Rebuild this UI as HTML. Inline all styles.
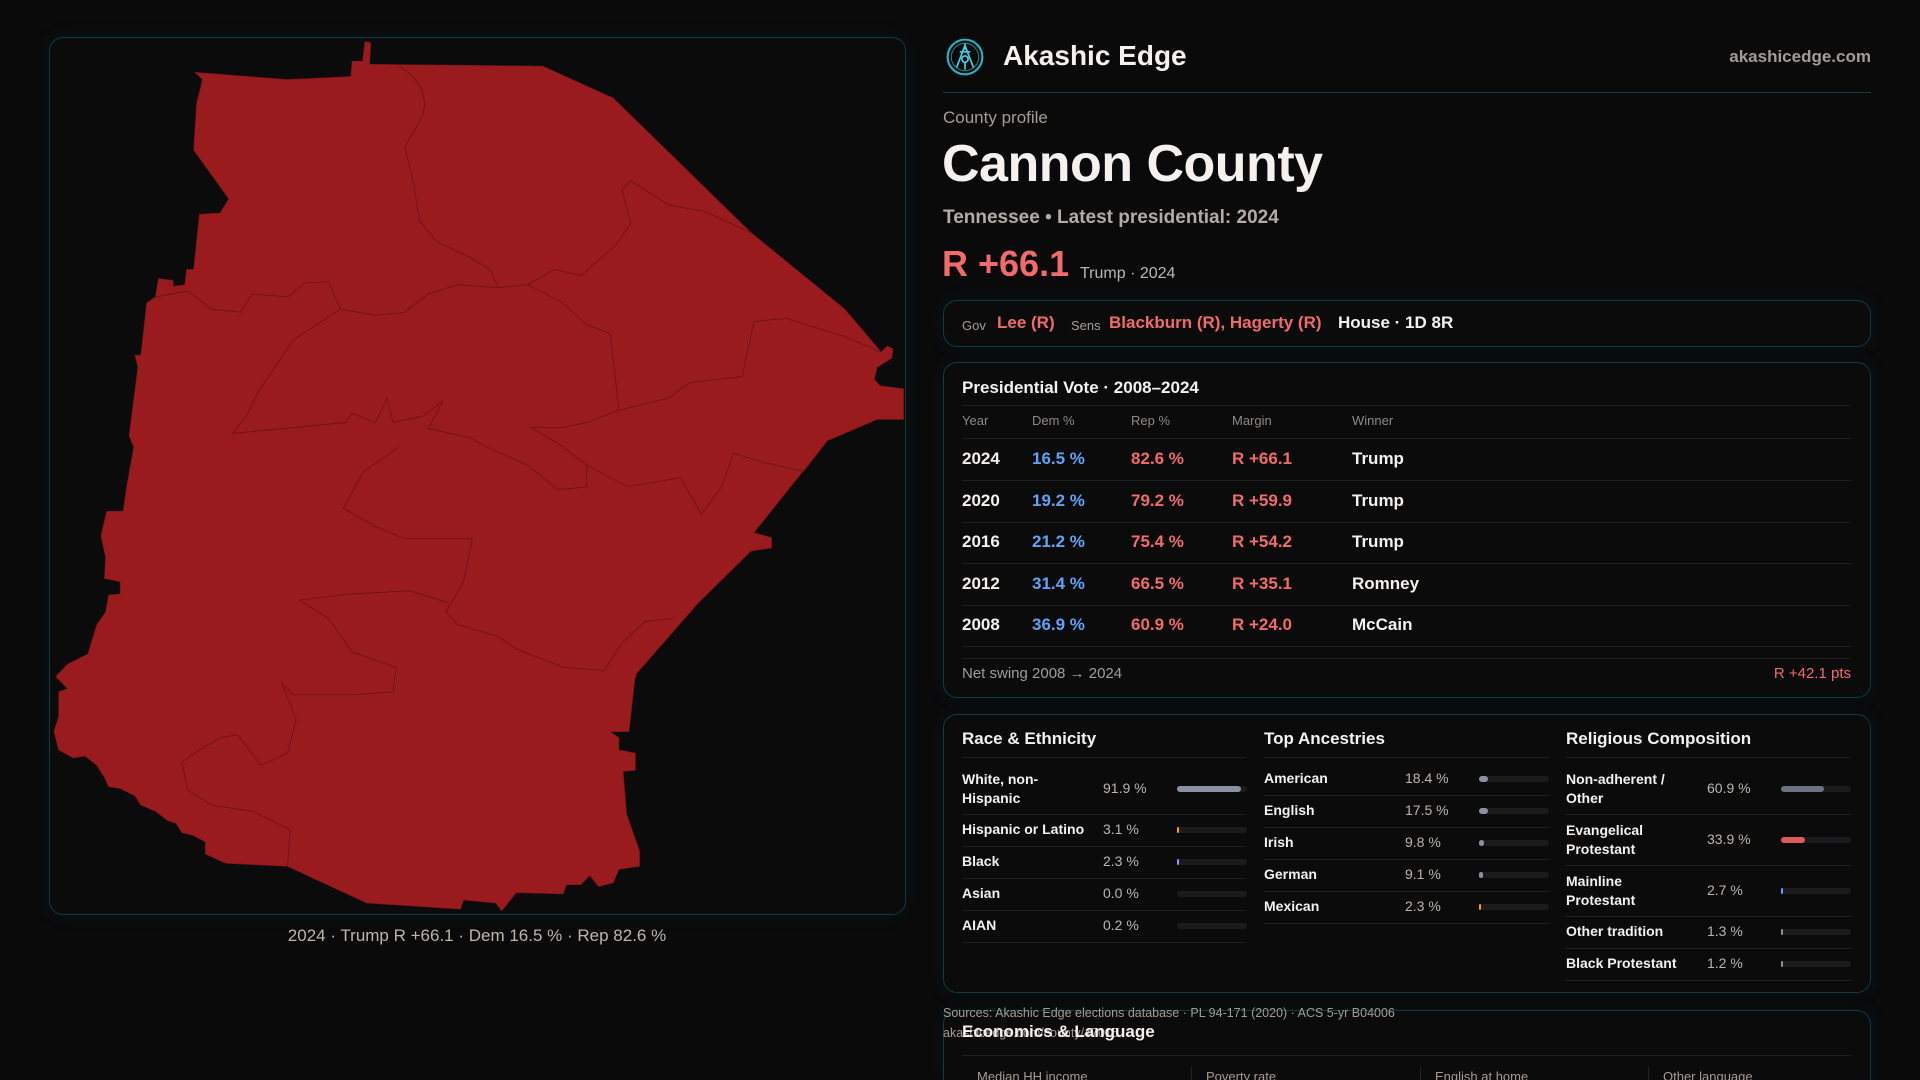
<!DOCTYPE html>
<html><head><meta charset="utf-8">
<style>
*{margin:0;padding:0;box-sizing:border-box}
html,body{width:1920px;height:1080px;overflow:hidden}
body{background:#0a0a0b;font-family:"Liberation Sans",sans-serif;color:#f4f1ee;position:relative}
.abs{position:absolute;white-space:nowrap}
.panel{position:absolute;border:1px solid #0f3b43;border-radius:14px;background:#0b0b0c;box-shadow:0 0 18px rgba(20,90,100,0.12)}
.muted{color:#a39c96}
.red{color:#f26b6b}
.hline{position:absolute;height:1px;background:#1f1f22}
.bar-fill{position:absolute;left:0;top:0;height:6px;border-radius:3px}
</style></head>
<body>
<!-- MAP -->
<div class="panel" style="left:49px;top:37px;width:857px;height:878px;background:#0b0b0c"></div>
<svg class="abs" style="left:0;top:0" width="920" height="960" viewBox="0 0 1568 1568" preserveAspectRatio="none">
<path fill="#991b1e" stroke="#7a1418" stroke-width="1" d="M332,118 L490,130 L598,125 L600,100 L618,100 L622,68 L632,70 L630,105 L925,108 L1045,160 L1280,380 L1440,505 L1502,575 L1512,565 L1522,570 L1520,585 L1495,600 L1490,620 L1500,630 L1540,635 L1540,685 L1495,685 L1410,720 L1285,870 L1315,878 L1315,895 L1280,900 L1190,985 L1085,1100 L1082,1110 L1072,1195 L1040,1195 L1055,1205 L1055,1225 L1083,1230 L1083,1258 L1062,1260 L1068,1330 L1090,1390 L1090,1415 L1055,1420 L1045,1442 L1020,1448 L1005,1430 L990,1445 L965,1445 L960,1460 L880,1458 L855,1488 L845,1475 L790,1470 L785,1485 L625,1475 L490,1415 L385,1410 L350,1395 L350,1375 L330,1365 L310,1360 L300,1345 L285,1340 L265,1325 L240,1315 L230,1300 L205,1288 L185,1285 L178,1270 L165,1250 L145,1235 L125,1238 L100,1225 L92,1195 L100,1170 L100,1130 L115,1125 L95,1105 L115,1085 L150,1068 L165,1020 L180,1000 L185,972 L205,970 L205,950 L178,945 L180,910 L172,875 L182,835 L210,835 L215,800 L228,730 L220,712 L235,600 L230,580 L240,580 L250,495 L265,485 L270,455 L295,458 L295,468 L315,465 L318,440 L330,440 L340,350 L375,348 L390,325 L330,245 L335,170 L345,130 Z"/>
<g fill="none" stroke="#6a1216" stroke-width="1.3">
<path d="M680,108 Q735,140 720,190 L690,240 L705,300 L715,360 L745,395 L800,420 L835,440 L850,470 L900,465 L945,440 L990,450 L1050,400 L1075,365 L1060,310 L1075,295 L1140,335 L1200,345 L1280,380"/>
<path d="M265,485 L320,475 L360,505 L410,510 L430,480 L490,485 L520,462 L560,460 L580,505 L640,515 L690,510 L730,480 L780,465 L850,470"/>
<path d="M900,465 L960,495 L1000,530 L1040,545 L1055,670 L1000,690 L960,698 L905,698"/>
<path d="M1055,670 L1140,650 L1175,625 L1265,615 L1285,525 L1340,520 L1440,550 L1502,575"/>
<path d="M395,708 L590,690 L600,675 L640,690 L660,650 L670,690 L720,680 L755,655 L730,700 L800,715 L830,730"/>
<path d="M580,505 L500,555 L440,640 L420,680 L395,708"/>
<path d="M905,698 L960,730 L1000,760 L1070,795 L1160,780 L1195,840 L1230,795 L1250,740 L1300,755 L1370,770 L1410,720"/>
<path d="M830,730 L900,760 L950,800 L1000,795 L1000,760"/>
<path d="M680,730 L620,770 L585,830 L640,860 L690,880 L805,880 L790,950 L760,1000 L780,1020 L850,1040 L880,1060 L960,1090 L1030,1095 L1060,1050 L1100,1015 L1148,1010"/>
<path d="M510,980 L600,970 L700,965 L765,985"/>
<path d="M510,980 L560,1010 L600,1065 L675,1090 L670,1130 L600,1135 L500,1135 L480,1115 L505,1175 L490,1230 L445,1250 L405,1200 L375,1205 L340,1225 L310,1245 L320,1290 L360,1315 L430,1325 L495,1355 L490,1415"/>
</g>
</svg>
<div class="abs" style="left:0;width:954px;top:926px;text-align:center;font-size:17px;color:#bdb5ad">2024 · Trump R +66.1 · Dem 16.5 % · Rep 82.6 %</div>

<!-- HEADER -->
<svg class="abs" style="left:945px;top:37px" width="40" height="40" viewBox="0 0 38 38">
<circle cx="19" cy="19" r="16.5" fill="none" stroke="#2ab3c4" stroke-width="2"/>
<circle cx="19" cy="19" r="13" fill="none" stroke="#1d7f8c" stroke-width="1"/>
<path d="M19,8 L11,29 M19,8 L27,29 M14,14 L24,14 M19,6 L19,12" stroke="#3fd0e0" stroke-width="1.6" fill="none"/>
<circle cx="19" cy="21" r="3" fill="none" stroke="#3fd0e0" stroke-width="1.6"/>
<path d="M19,24 L19,31" stroke="#3fd0e0" stroke-width="1.6"/>
</svg>
<div class="abs" style="left:1003px;top:40px;font-size:28px;font-weight:bold;color:#f4f1ee">Akashic Edge</div>
<div class="abs" style="right:49px;top:47px;font-size:17px;font-weight:bold;color:#a39c96">akashicedge.com</div>
<div class="abs" style="left:943px;top:92px;width:928px;height:1px;background:#123c44"></div>
<div class="abs muted" style="left:943px;top:108px;font-size:17px">County profile</div>
<div class="abs" style="left:942px;top:134px;font-size:52px;font-weight:bold;letter-spacing:-0.5px">Cannon County</div>
<div class="abs" style="left:943px;top:207px;font-size:19px;color:#b3aca6;font-weight:bold">Tennessee • Latest presidential: 2024</div>
<div class="abs red" style="left:942px;top:243px;font-size:36px;font-weight:bold">R +66.1</div>
<div class="abs" style="left:1080px;top:265px;font-size:16px;color:#bdb5ad">Trump · 2024</div>

<!-- OFFICES -->
<div class="panel" style="left:943px;top:300px;width:928px;height:47px"></div>
<div class="abs muted" style="left:962px;top:318px;font-size:13px">Gov</div>
<div class="abs red" style="left:997px;top:313px;font-size:17px;font-weight:bold">Lee (R)</div>
<div class="abs muted" style="left:1071px;top:318px;font-size:13px">Sens</div>
<div class="abs red" style="left:1109px;top:313px;font-size:17px;font-weight:bold">Blackburn (R), Hagerty (R)</div>
<div class="abs" style="left:1338px;top:313px;font-size:17px;font-weight:bold">House · 1D 8R</div>

<!-- PRESIDENTIAL -->
<div class="panel" style="left:943px;top:362px;width:928px;height:336px"></div>
<div class="abs" style="left:962px;top:378px;font-size:17px;font-weight:bold">Presidential Vote · 2008–2024</div>
<div class="hline" style="left:962px;top:405px;width:889px"></div>
<div id="ptable"></div>
<div class="abs muted" style="left:962px;top:665px;font-size:15px">Net swing 2008 → 2024</div>
<div class="abs red" style="right:69px;top:665px;font-size:15px">R +42.1 pts</div>

<!-- DEMOGRAPHICS -->
<div class="panel" style="left:943px;top:714px;width:928px;height:279px"></div>
<div id="demo"></div>

<!-- FOOTER / ECON -->
<div class="panel" style="left:943px;top:1010px;width:928px;height:70px;border-bottom:none;border-radius:14px 14px 0 0"></div>
<div class="abs muted" style="left:943px;top:1006px;font-size:12.5px">Sources: Akashic Edge elections database · PL 94-171 (2020) · ACS 5-yr B04006</div>
<div class="abs muted" style="left:943px;top:1026px;font-size:12.5px">akashicedge.com/county/47015</div>
<div class="abs" style="left:962px;top:1022px;font-size:17px;font-weight:bold">Economics &amp; Language</div>
<div class="hline" style="left:962px;top:1055px;width:889px"></div>
<div class="abs muted" style="left:977px;top:1069px;font-size:13px">Median HH income</div>
<div class="abs muted" style="left:1206px;top:1069px;font-size:13px">Poverty rate</div>
<div class="abs muted" style="left:1435px;top:1069px;font-size:13px">English at home</div>
<div class="abs muted" style="left:1663px;top:1069px;font-size:13px">Other language</div>
<div class="abs" style="left:1191px;top:1066px;width:1px;height:20px;background:#222"></div>
<div class="abs" style="left:1420px;top:1066px;width:1px;height:20px;background:#222"></div>
<div class="abs" style="left:1648px;top:1066px;width:1px;height:20px;background:#222"></div>

<script>
const years=["2024","2020","2016","2012","2008"];
const demPct=[16.5,19.2,21.2,31.4,36.9];
const repPct=[82.6,79.2,75.4,66.5,60.9];
const margins=[66.1,59.9,54.2,35.1,24.0];
const winners=["Trump","Trump","Trump","Romney","McCain"];

const raceLabels=["White, non-Hispanic","Hispanic or Latino","Black","Asian","AIAN"];
const raceValues=[91.9,3.1,2.3,0.0,0.2];
const ancLabels=["American","English","Irish","German","Mexican"];
const ancValues=[18.4,17.5,9.8,9.1,2.3];
const relLabels=["Non-adherent / Other","Evangelical Protestant","Mainline Protestant","Other tradition","Black Protestant"];
const relValues=[60.9,33.9,2.7,1.3,1.2];

function mk(parent,css,text){const d=document.createElement('div');d.className='abs';d.style.cssText=css;if(text!==undefined)d.textContent=text;parent.appendChild(d);return d;}

// table
const pt=document.getElementById('ptable');
const hdr=["Year","Dem %","Rep %","Margin","Winner"];
const colX=[962,1032,1131,1232,1352];
hdr.forEach((h,i)=>{const e=mk(pt,`left:${colX[i]}px;top:413px;font-size:13px;color:#8f8882`,h);

});
mk(pt,'left:962px;top:438px;width:889px;height:1px;background:#1f1f22');
const rowY0=449,rowH=41.6;
years.forEach((y,i)=>{
  const top=rowY0+i*rowH;
  const vals=[y,demPct[i].toFixed(1)+" %",repPct[i].toFixed(1)+" %","R +"+margins[i].toFixed(1),winners[i]];
  const cols=["#f4f1ee","#5fa3f5","#f26b6b","#f26b6b","#f4f1ee"];
  vals.forEach((v,j)=>{const e=mk(pt,`left:${colX[j]}px;top:${top}px;font-size:17px;font-weight:bold;color:${cols[j]}`,v);
  
  });
  mk(pt,`left:962px;top:${top+31}px;width:889px;height:1px;background:#1f1f22`);
});
mk(pt,'left:962px;top:658px;width:889px;height:1px;background:#1f1f22');

// demographics
const demo=document.getElementById('demo');
const cols=[
 {x:962,title:"Race & Ethnicity",labels:raceLabels,values:raceValues,colors:["#8a92a2","#f59e0b","#a78bfa","#8a92a2","#8a92a2"],two:[true,false,false,false,false]},
 {x:1264,title:"Top Ancestries",labels:ancLabels,values:ancValues,colors:["#8a92a2","#8a92a2","#8a92a2","#8a92a2","#f59e0b"],two:[false,false,false,false,false]},
 {x:1566,title:"Religious Composition",labels:relLabels,values:relValues,colors:["#6b7280","#e05a5a","#60a5fa","#8a92a2","#8a92a2"],two:[true,true,true,false,false]}
];
cols.forEach((c,ci)=>{
  const t=mk(demo,`left:${c.x}px;top:729px;font-size:17px;font-weight:bold`,c.title);
  
  
  mk(demo,`left:${c.x}px;top:757px;width:285px;height:1px;background:#1f1f22`);
  let y=757;
  c.labels.forEach((lab,i)=>{
    const pad=i===0?6:0;
    const h=(c.two[i]?51:32)+pad;
    const cy=y+pad+(h-pad)/2;
    const lw=c.two[i]?'white-space:normal;width:110px;line-height:19px;':'';
    const le=mk(demo,`left:${c.x}px;top:${cy-(c.two[i]?19:9)}px;font-size:14px;font-weight:bold;${lw}`,lab);
    
    
    const ve=mk(demo,`left:${c.x+141}px;top:${cy-9}px;font-size:14px;color:#bdb5ad`,c.values[i].toFixed(1)+" %");
    
    
    const tr=mk(demo,`left:${c.x+215}px;top:${cy-3}px;width:70px;height:6px;border-radius:3px;background:#1b1b1e`);
    
    
    const w=c.values[i]<0.5?0:Math.max(2,70*c.values[i]/100*(c.values[i]<20?0.7:1));
    const f=document.createElement('div');
    f.className='bar-fill';
    f.style.width=w+'px';
    f.style.background=c.colors[i];
    
    
    tr.appendChild(f);
    y+=h;
    mk(demo,`left:${c.x}px;top:${y}px;width:285px;height:1px;background:#1f1f22`);
  });
});
</script>
</body></html>
